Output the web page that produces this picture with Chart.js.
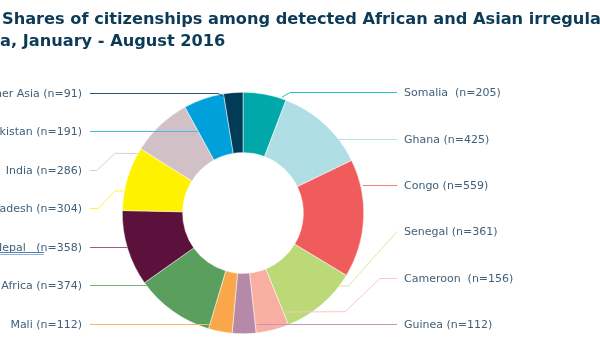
<!DOCTYPE html>
<html>
<head>
<meta charset="utf-8">
<script src="https://cdn.jsdelivr.net/npm/chart.js@4"></script>
<style>
html,body{margin:0;padding:0;background:#fff;overflow:hidden;}
#wrap{position:relative;width:600px;height:360px;}
</style>
</head>
<body>
<div id="wrap"><canvas id="c" width="600" height="360"></canvas></div>
<script>
// ---- data ----
const categories = ['Somalia','Ghana','Congo','Senegal','Cameroon','Guinea','Mali','Other Africa','Nepal','Bangladesh','India','Pakistan','Other Asia'];
const counts = [205, 425, 559, 361, 156, 112, 112, 374, 358, 304, 286, 191, 91];
const titleLines = ['Shares of citizenships among detected African and Asian irregular migrants', 'a, January - August 2016'];

// ---- styles ----
const segColors = ['#00a8aa','#b0dee5','#f05c5c','#bcd977','#f8afa2','#b689a9','#f9a74a','#5b9f5f','#5c113c','#fff200','#d1c0c6','#00a0db','#023b57'];
const lineColors = ['#2fc4c8','#b6e3ea','#f08080','#d8e7a4','#f9c8c0','#c496bb','#f9b868','#7fb283','#9a5f84','#fff04a','#d4d0d2','#4ab8e0','#2f5570'];
const nameGap = [2,1,1,1,2,1,1,1,3,1,1,1,1]; // spaces between name and count

// ---- label layout ----
// side, row index; leader end: f = fraction along the segment's angle, k = radius factor; via = elbow points
const leaders = [
  {side:'R', row:0, f:0.886, k:1.01, via:[[290,null]]},
  {side:'R', row:1, f:0.71, k:1.0, h:true},
  {side:'R', row:2, f:0.218, k:1.02, h:true},
  {side:'R', row:3, f:0.166, k:1.0, via:[[348.3,286]]},
  {side:'R', row:4, f:-0.05, k:0.89, via:[[380,null],[345,311.7]]},
  {side:'R', row:5, f:-0.09, k:0.927, h:true},
  {side:'L', row:6, f:0.91, k:0.954, h:true},
  {side:'L', row:5, f:0.953, k:1.0, h:true},
  {side:'L', row:4, f:0.52, k:0.995, h:true},
  {side:'L', row:3, f:0.30, k:1.0, via:[[98.3,null],[115,191]]},
  {side:'L', row:2, f:-0.09, k:1.0, via:[[96.7,null],[115,153.3]]},
  {side:'L', row:1, f:0.005, k:0.773, h:true},
  {side:'L', row:0, f:-0.02, k:0.98, via:[[218,null]]}
];
const rightRows = {start:92.3, step:46.34, lineX:397, textX:404};
const leftRows = {start:92.7, step:38.55, lineX:90, textX:82};

const labelPlugin = {
  id:'labels',
  afterDatasetsDraw(chart){
    const ctx = chart.ctx;
    const meta = chart.getDatasetMeta(0);
    ctx.save();
    ctx.lineWidth = 1;
    meta.data.forEach((arc, i) => {
      const L = leaders[i];
      const rows = L.side === 'R' ? rightRows : leftRows;
      const y = Math.round(rows.start + L.row * rows.step) + 0.5;
      const a = arc.startAngle + L.f * (arc.endAngle - arc.startAngle);
      const r = arc.outerRadius * L.k;
      const ex = arc.x + Math.cos(a) * r;
      const ey = arc.y + Math.sin(a) * r;
      ctx.strokeStyle = lineColors[i];
      ctx.beginPath();
      ctx.moveTo(rows.lineX, y);
      if (L.h) {
        ctx.lineTo(ex, y);
      } else {
        (L.via || []).forEach(p => ctx.lineTo(p[0], p[1] === null ? y : p[1]));
        ctx.lineTo(ex, ey);
      }
      ctx.stroke();
      // text
      const txt = categories[i] + ' '.repeat(nameGap[i]) + '(n=' + counts[i] + ')';
      ctx.fillStyle = '#41607a';
      ctx.font = '11px "DejaVu Sans", Verdana, sans-serif';
      ctx.textBaseline = 'middle';
      ctx.textAlign = L.side === 'R' ? 'left' : 'right';
      ctx.fillText(txt, rows.textX, y + 1);
      if (categories[i] === 'Nepal') {
        ctx.strokeStyle = '#4f7fb3';
        ctx.beginPath();
        ctx.moveTo(0, y + 5); ctx.lineTo(44, y + 5);
        ctx.stroke();
        ctx.strokeStyle = '#8fb0d4';
        ctx.beginPath();
        ctx.moveTo(0, y + 7); ctx.lineTo(44, y + 7);
        ctx.stroke();
      }
    });
    // title
    ctx.fillStyle = '#0c3b58';
    ctx.font = 'bold 16.2px "DejaVu Sans", Verdana, sans-serif';
    ctx.textAlign = 'left';
    ctx.textBaseline = 'alphabetic';
    ctx.fillText(titleLines[0], 2, 24);
    ctx.fillText(titleLines[1], 0, 46);
    ctx.restore();
  }
};

new Chart(document.getElementById('c'), {
  type:'doughnut',
  data:{
    labels:categories,
    datasets:[{data:counts, backgroundColor:segColors, borderColor:'#ffffff', borderWidth:0.5, hoverOffset:0}]
  },
  options:{
    responsive:false,
    animation:false,
    cutout:'50%',
    layout:{padding:{left:122, right:236, top:92, bottom:26}},
    plugins:{legend:{display:false}, tooltip:{enabled:false}, title:{display:false}}
  },
  plugins:[labelPlugin]
});
</script>
</body>
</html>
